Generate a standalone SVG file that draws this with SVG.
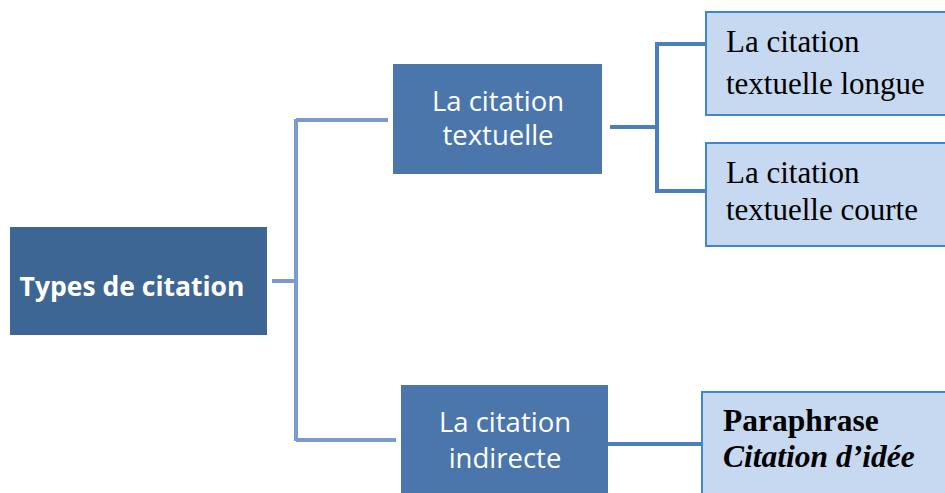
<svg xmlns="http://www.w3.org/2000/svg" width="945" height="493" viewBox="0 0 945 493">
<style>
.dk{fill:#4a76ab}
.lt{fill:#c6d9f0;stroke:#3f86cc;stroke-width:2}
.ws{font-family:"Open Sans","Liberation Sans",sans-serif;fill:#fff;font-size:27.5px;text-anchor:middle}
.tm{font-family:"Liberation Serif",serif;fill:#000;font-size:31px}
.c1{fill:none;stroke:#7b9bcf;stroke-width:4}
.c2{fill:none;stroke:#4a7ebd;stroke-width:4}
</style>
<rect width="945" height="493" fill="#fff"/>
<g id="connectors">
<path class="c1" d="M272 281H296M296 119V441M296 120H388M296 440H396"/>
<path class="c2" d="M610 127H657M657 42V193M655 44H706M655 191H706"/>
<path class="c2" d="M608 444H702"/>
</g>
<g id="root">
<rect x="10" y="227" width="257" height="108" fill="#3d6695"/>
<text x="132" y="296" class="ws" style="font-weight:bold;font-size:26.5px">Types de citation</text>
</g>
<g id="textuelle">
<rect x="393" y="64" width="209" height="110" class="dk"/>
<text x="498" y="111" class="ws">La citation</text>
<text x="498" y="145" class="ws">textuelle</text>
</g>
<g id="indirecte">
<rect x="401" y="385" width="207" height="110" class="dk"/>
<text x="505" y="432" class="ws">La citation</text>
<text x="505" y="468" class="ws">indirecte</text>
</g>
<g id="longue">
<rect x="706" y="12" width="245" height="103" class="lt"/>
<text x="726" y="52" class="tm">La citation</text>
<text x="726" y="94" class="tm">textuelle longue</text>
</g>
<g id="courte">
<rect x="706" y="143" width="245" height="103" class="lt"/>
<text x="726" y="183" class="tm">La citation</text>
<text x="726" y="220" class="tm">textuelle courte</text>
</g>
<g id="paraphrase">
<rect x="702" y="392" width="249" height="110" class="lt"/>
<text x="723" y="431" class="tm" style="font-weight:bold;font-size:31.5px">Paraphrase</text>
<text x="723" y="467" class="tm" style="font-weight:bold;font-style:italic;font-size:31.5px">Citation d’idée</text>
</g>
</svg>
